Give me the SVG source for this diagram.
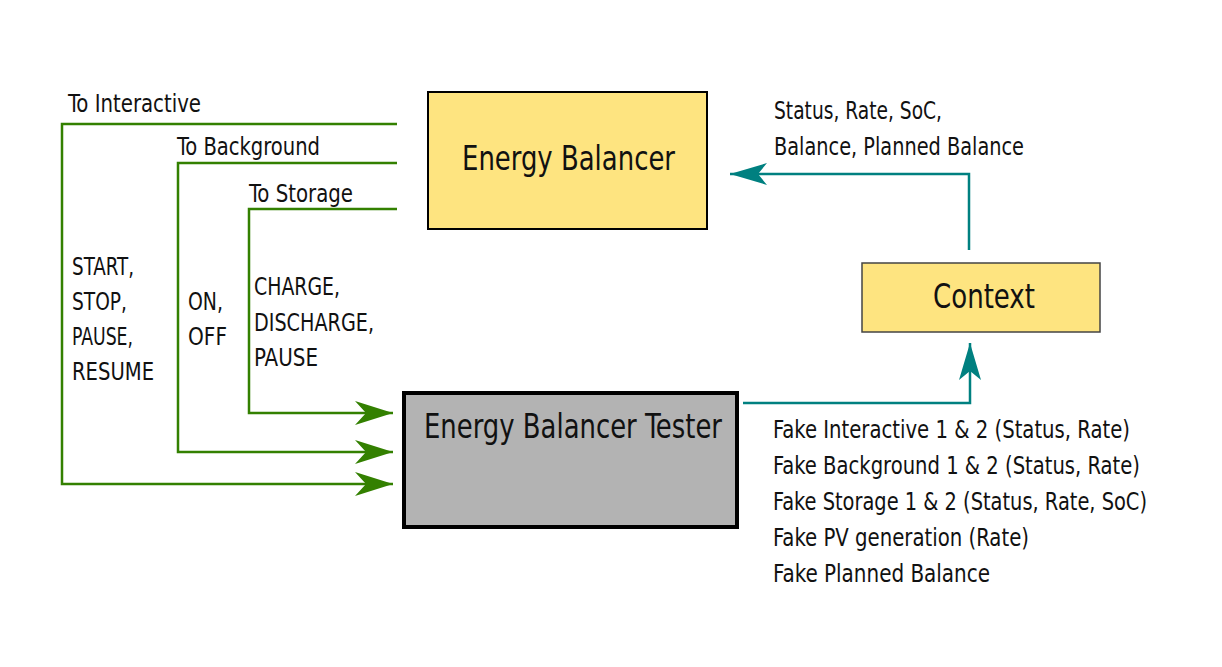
<svg xmlns="http://www.w3.org/2000/svg" width="1222" height="667" viewBox="0 0 1222 667">
<style>
text{font-family:"Liberation Sans Narrow","DejaVu Sans Condensed","Liberation Sans",sans-serif;fill:#111}
.s{font-size:25.5px}
.b{font-size:33px}
.g{fill:none;stroke:#338000;stroke-width:2.5}
.t{fill:none;stroke:#008080;stroke-width:2.5}
</style>
<defs>
<marker id="ag" viewBox="-40 -14 42 28" refX="0" refY="0" markerWidth="42" markerHeight="28" markerUnits="userSpaceOnUse" orient="auto">
<path d="M0,0 L-38,-12 L-27,0 L-38,12 Z" fill="#338000"/>
</marker>
<marker id="at" viewBox="-40 -14 42 28" refX="0" refY="0" markerWidth="42" markerHeight="28" markerUnits="userSpaceOnUse" orient="auto">
<path d="M0,0 L-37,-11 L-28,0 L-37,11 Z" fill="#008080"/>
</marker>
</defs>
<rect width="1222" height="667" fill="#fff"/>
<g id="connectors">
<path class="g" d="M397,124 H62 V484 H393" marker-end="url(#ag)"/>
<path class="g" d="M397,163 H178 V452 H393" marker-end="url(#ag)"/>
<path class="g" d="M397,209 H249 V413 H393" marker-end="url(#ag)"/>
<path class="t" d="M743,403 H970 V343" marker-end="url(#at)"/>
<path class="t" d="M969,250 V174 H730" marker-end="url(#at)"/>
<text class="s" x="68" y="112" textLength="133" lengthAdjust="spacingAndGlyphs">To Interactive</text>
<text class="s" x="177" y="155" textLength="143" lengthAdjust="spacingAndGlyphs">To Background</text>
<text class="s" x="249" y="202" textLength="104" lengthAdjust="spacingAndGlyphs">To Storage</text>
<text class="s" x="72" y="275" textLength="62" lengthAdjust="spacingAndGlyphs">START,</text>
<text class="s" x="72" y="310" textLength="55" lengthAdjust="spacingAndGlyphs">STOP,</text>
<text class="s" x="72" y="345" textLength="61" lengthAdjust="spacingAndGlyphs">PAUSE,</text>
<text class="s" x="72" y="380" textLength="82" lengthAdjust="spacingAndGlyphs">RESUME</text>
<text class="s" x="188" y="310" textLength="35" lengthAdjust="spacingAndGlyphs">ON,</text>
<text class="s" x="188" y="345" textLength="39" lengthAdjust="spacingAndGlyphs">OFF</text>
<text class="s" x="254" y="295" textLength="86" lengthAdjust="spacingAndGlyphs">CHARGE,</text>
<text class="s" x="254" y="331" textLength="120" lengthAdjust="spacingAndGlyphs">DISCHARGE,</text>
<text class="s" x="254" y="366" textLength="64" lengthAdjust="spacingAndGlyphs">PAUSE</text>
<text class="s" x="774" y="119" textLength="168" lengthAdjust="spacingAndGlyphs">Status, Rate, SoC,</text>
<text class="s" x="774" y="155" textLength="250" lengthAdjust="spacingAndGlyphs">Balance, Planned Balance</text>
<text class="s" x="773" y="438" textLength="357" lengthAdjust="spacingAndGlyphs">Fake Interactive 1 &amp; 2 (Status, Rate)</text>
<text class="s" x="773" y="474" textLength="367" lengthAdjust="spacingAndGlyphs">Fake Background 1 &amp; 2 (Status, Rate)</text>
<text class="s" x="773" y="510" textLength="374" lengthAdjust="spacingAndGlyphs">Fake Storage 1 &amp; 2 (Status, Rate, SoC)</text>
<text class="s" x="773" y="546" textLength="256" lengthAdjust="spacingAndGlyphs">Fake PV generation (Rate)</text>
<text class="s" x="773" y="582" textLength="217" lengthAdjust="spacingAndGlyphs">Fake Planned Balance</text>
</g>
<g id="energy-balancer">
<rect x="428" y="92" width="279" height="137" fill="#fee480" stroke="#000" stroke-width="2"/>
<text class="b" x="462" y="170" textLength="213" lengthAdjust="spacingAndGlyphs">Energy Balancer</text>
</g>
<g id="context">
<rect x="862" y="263" width="238" height="69" fill="#fee480" stroke="#444" stroke-width="1.5"/>
<text class="b" x="933" y="308" textLength="102" lengthAdjust="spacingAndGlyphs">Context</text>
</g>
<g id="tester">
<rect x="404" y="393" width="333" height="134" fill="#b3b3b3" stroke="#000" stroke-width="4"/>
<text class="b" x="424" y="438" textLength="298" lengthAdjust="spacingAndGlyphs">Energy Balancer Tester</text>
</g>
</svg>
